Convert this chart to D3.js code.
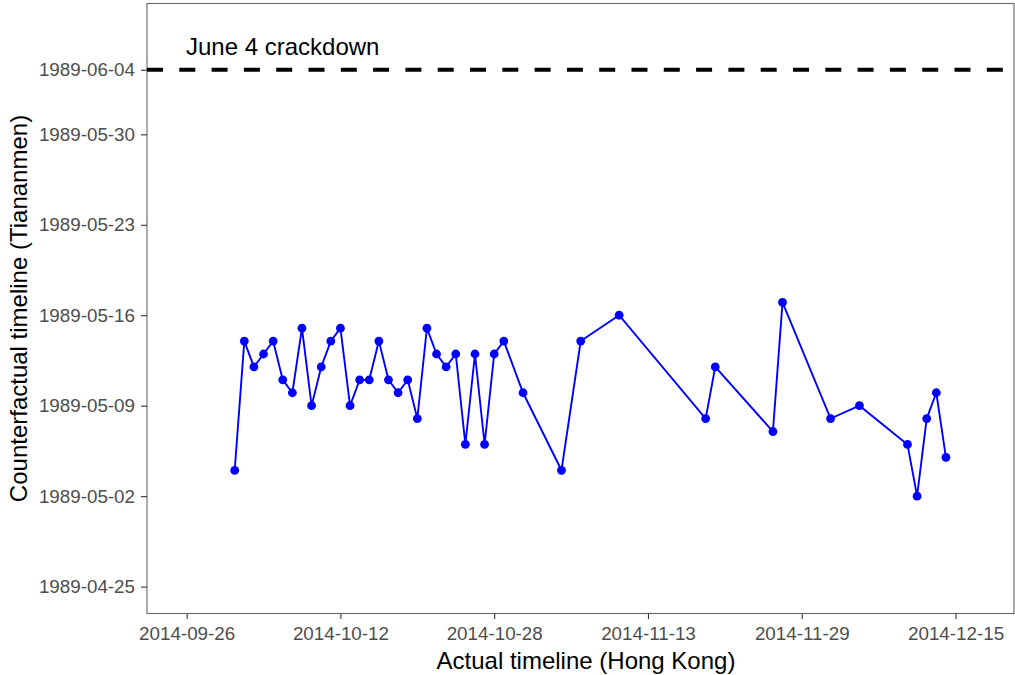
<!DOCTYPE html>
<html><head><meta charset="utf-8">
<script src="https://cdn.jsdelivr.net/npm/d3@7"></script>
<style>body{margin:0;background:#fff;} text{font-family:"Liberation Sans",Arial,sans-serif;}</style>
</head><body>
<svg id="chart" width="1015" height="675"></svg>
<script>
const actualDates = ["2014-10-01","2014-10-02","2014-10-03","2014-10-04","2014-10-05","2014-10-06","2014-10-07","2014-10-08","2014-10-09","2014-10-10","2014-10-11","2014-10-12","2014-10-13","2014-10-14","2014-10-15","2014-10-16","2014-10-17","2014-10-18","2014-10-19","2014-10-20","2014-10-21","2014-10-22","2014-10-23","2014-10-24","2014-10-25","2014-10-26","2014-10-27","2014-10-28","2014-10-29","2014-10-31","2014-11-04","2014-11-06","2014-11-10","2014-11-19","2014-11-20","2014-11-26","2014-11-27","2014-12-02","2014-12-05","2014-12-10","2014-12-11","2014-12-12","2014-12-13","2014-12-14"];
const counterfactualDates = ["1989-05-04","1989-05-14","1989-05-12","1989-05-13","1989-05-14","1989-05-11","1989-05-10","1989-05-15","1989-05-09","1989-05-12","1989-05-14","1989-05-15","1989-05-09","1989-05-11","1989-05-11","1989-05-14","1989-05-11","1989-05-10","1989-05-11","1989-05-08","1989-05-15","1989-05-13","1989-05-12","1989-05-13","1989-05-06","1989-05-13","1989-05-06","1989-05-13","1989-05-14","1989-05-10","1989-05-04","1989-05-14","1989-05-16","1989-05-08","1989-05-12","1989-05-07","1989-05-17","1989-05-08","1989-05-09","1989-05-06","1989-05-02","1989-05-08","1989-05-10","1989-05-05"];
const xTickLabels = ["2014-09-26","2014-10-12","2014-10-28","2014-11-13","2014-11-29","2014-12-15"];
const yTickLabels = ["1989-04-25","1989-05-02","1989-05-09","1989-05-16","1989-05-23","1989-05-30","1989-06-04"];
const crackdownDate = "1989-06-04";
const annotationText = "June 4 crackdown";
const annotationX = "2014-10-06";
const annotationY = "1989-06-05T20:00";

const parse = d3.utcParse("%Y-%m-%d");
const parseT = d3.utcParse("%Y-%m-%dT%H:%M");
const fmt = d3.utcFormat("%Y-%m-%d");
const data = actualDates.map((d,i)=>({x:parse(d), y:parse(counterfactualDates[i])}));

const svg = d3.select("#chart");
const L=147, R=1014, T=3.5, B=613.5;

const x = d3.scaleUtc()
  .domain([d3.utcHour.offset(parse("2014-09-26"), -99), d3.utcHour.offset(parse("2014-12-15"), 146)])
  .range([L, R]);
const y = d3.scaleUtc()
  .domain([d3.utcHour.offset(parse("1989-04-25"), -50), d3.utcHour.offset(parse("1989-06-04"), 123.5)])
  .range([B, T]);

// panel
svg.append("rect").attr("x",L).attr("y",T).attr("width",R-L).attr("height",B-T)
  .attr("fill","none").attr("stroke","#666").attr("stroke-width",1.1);

// dashed line
svg.append("line").attr("x1",L).attr("x2",R)
  .attr("y1",y(parse(crackdownDate))).attr("y2",y(parse(crackdownDate)))
  .attr("stroke","#000").attr("stroke-width",4).attr("stroke-dasharray","16,16.3");

svg.append("text").attr("x",x(parse(annotationX))).attr("y",y(parseT(annotationY)))
  .attr("text-anchor","middle").attr("dominant-baseline","central")
  .attr("font-size",24).attr("fill","#000").text(annotationText);

// axes
const xAxis = d3.axisBottom(x).tickValues(xTickLabels.map(parse)).tickFormat(fmt).tickSize(5.5).tickPadding(7.5);
const gx = svg.append("g").attr("transform",`translate(0,${B})`).call(xAxis);
const yAxis = d3.axisLeft(y).tickValues(yTickLabels.map(parse)).tickFormat(fmt).tickSize(6).tickPadding(6);
const gy = svg.append("g").attr("transform",`translate(${L},0)`).call(yAxis);
[gx,gy].forEach(g=>{
  g.select(".domain").remove();
  g.selectAll(".tick line").attr("stroke","#333").attr("stroke-width",1.1);
  g.selectAll(".tick text").attr("fill","#4d4d4d").attr("font-size",18.8).attr("font-family","Liberation Sans, Arial, sans-serif");
});

// line + points
const line = d3.line().x(d=>x(d.x)).y(d=>y(d.y));
svg.append("path").datum(data).attr("d",line).attr("fill","none").attr("stroke","#0000ff").attr("stroke-width",1.9);
svg.append("g").selectAll("circle").data(data).join("circle")
  .attr("cx",d=>x(d.x)).attr("cy",d=>y(d.y)).attr("r",4.4).attr("fill","#0000ff");

// titles
svg.append("text").attr("x",586).attr("y",669).attr("text-anchor","middle")
  .attr("font-size",24).attr("fill","#000").text("Actual timeline (Hong Kong)");
svg.append("text").attr("transform",`translate(27,${(T+B)/2}) rotate(-90)`).attr("text-anchor","middle")
  .attr("font-size",24).attr("fill","#000").text("Counterfactual timeline (Tiananmen)");
</script>
</body></html>
